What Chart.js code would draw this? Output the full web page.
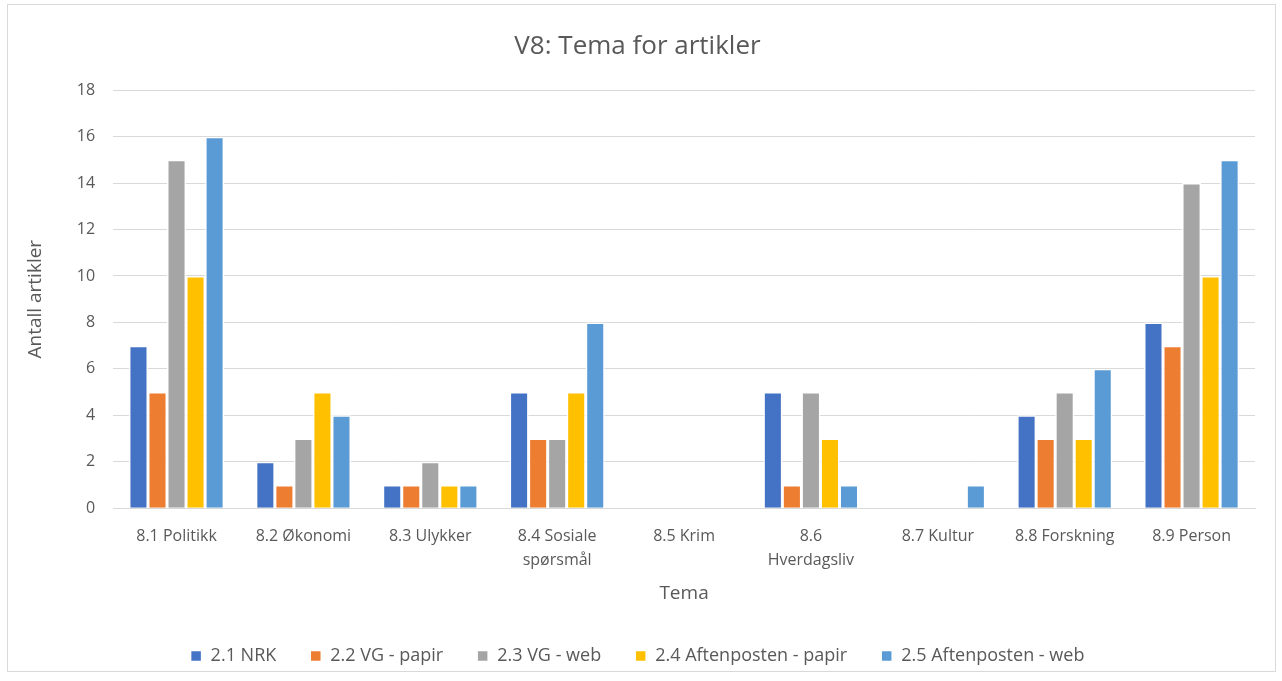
<!DOCTYPE html>
<html>
<head>
<meta charset="utf-8">
<script src="https://cdn.jsdelivr.net/npm/chart.js@4.4.0/dist/chart.umd.min.js"></script>
<style>
  html, body { margin: 0; padding: 0; background: #fff; }
  #wrap {
    position: absolute; left: 7px; top: 4px;
    width: 1267px; height: 666px;
    border: 1px solid #d9d9d9;
  }
</style>
</head>
<body>
<div id="wrap"><canvas id="chart"></canvas></div>
<script>
// Tema-kategorier
const categories = ['8.1 Politikk', '8.2 Økonomi', '8.3 Ulykker', ['8.4 Sosiale', 'spørsmål'], '8.5 Krim',
  ['8.6', 'Hverdagsliv'], '8.7 Kultur', '8.8 Forskning', '8.9 Person'];

const seriesNames = ['2.1 NRK', '2.2 VG - papir', '2.3 VG - web', '2.4 Aftenposten - papir', '2.5 Aftenposten - web'];

const nrk = [7, 2, 1, 5, 0, 5, 0, 4, 8];
const vgPapir = [5, 1, 1, 3, 0, 1, 0, 3, 7];
const vgWeb = [15, 3, 2, 3, 0, 5, 0, 5, 14];
const aftenPapir = [10, 5, 1, 5, 0, 3, 0, 3, 10];
const aftenWeb = [16, 4, 1, 8, 0, 1, 1, 6, 15];

const yTicks = [0, 2, 4, 6, 8, 10, 12, 14, 16, 18];

const colors = ['#4472C4', '#ED7D31', '#A5A5A5', '#FFC000', '#5B9BD5'];
const values = [nrk, vgPapir, vgWeb, aftenPapir, aftenWeb];

Chart.defaults.font.family = '"Open Sans", "Liberation Sans", sans-serif';
Chart.defaults.color = '#595959';

const ctx = document.getElementById('chart').getContext('2d');

new Chart(ctx, {
  type: 'bar',
  data: {
    labels: categories,
    datasets: seriesNames.map((name, i) => ({
      label: name,
      data: values[i],
      backgroundColor: colors[i],
      borderColor: '#ffffff',
      borderWidth: 1.5,
      categoryPercentage: 0.75,
      barPercentage: 1.0
    }))
  },
  options: {
    responsive: true,
    maintainAspectRatio: false,
    animation: false,
    layout: { padding: { left: 12, right: 20, top: 10, bottom: -4 } },
    plugins: {
      title: {
        display: true,
        text: 'V8: Tema for artikler',
        font: { size: 26, weight: 'normal' },
        color: '#595959',
        padding: { top: 16, bottom: 28 }
      },
      legend: {
        position: 'bottom',
        labels: {
          boxWidth: 11,
          boxHeight: 11,
          padding: 34,
          font: { size: 18 }
        }
      },
      tooltip: { enabled: false }
    },
    scales: {
      x: {
        grid: { display: false },
        border: { color: '#d9d9d9' },
        ticks: { font: { size: 16, lineHeight: 1.5 }, maxRotation: 0, autoSkip: false, padding: 8 },
        title: { display: true, text: 'Tema', font: { size: 19 }, padding: { top: 2, bottom: 8 } }
      },
      y: {
        min: 0,
        max: 18,
        afterBuildTicks: (axis) => { axis.ticks = yTicks.map(v => ({ value: v })); },
        grid: { color: '#d9d9d9', drawTicks: false },
        border: { display: false },
        ticks: { font: { size: 16 }, padding: 18 },
        title: { display: true, text: 'Antall artikler', font: { size: 19 }, padding: { bottom: 12 } }
      }
    }
  }
});
</script>
</body>
</html>
